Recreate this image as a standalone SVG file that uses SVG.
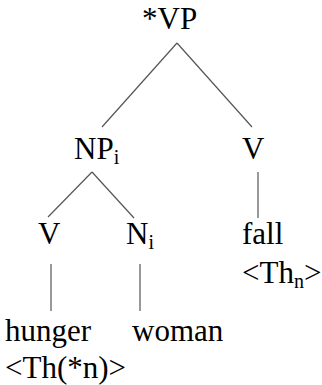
<svg xmlns="http://www.w3.org/2000/svg" width="322" height="385" viewBox="0 0 322 385">
<style>
.t{font-family:'Liberation Serif','Times New Roman',serif;font-size:31px;fill:#000}
.sub{font-size:20px}
.e{stroke:#555;stroke-width:1.2;fill:none}
</style>
<rect width="322" height="385" fill="#fff"/>
<g id="connectors">
<line class="e" x1="177" y1="43" x2="102" y2="127"/>
<line class="e" x1="177" y1="43" x2="252" y2="127"/>
<line class="e" x1="92" y1="172" x2="48" y2="217"/>
<line class="e" x1="92" y1="172" x2="134" y2="218"/>
<line class="e" x1="258" y1="172" x2="258" y2="218"/>
<line class="e" x1="51" y1="264" x2="51" y2="311"/>
<line class="e" x1="140" y1="264" x2="140" y2="311"/>
</g>
<g id="vp"><text class="t" x="142" y="29">*VP</text></g>
<g id="np"><text class="t" x="74" y="159">NP<tspan class="sub" dy="5">i</tspan></text></g>
<g id="v-right"><text class="t" x="242" y="159">V</text></g>
<g id="v-left"><text class="t" x="38" y="244">V</text></g>
<g id="n"><text class="t" x="126" y="244">N<tspan class="sub" dy="5">i</tspan></text></g>
<g id="fall"><text class="t" x="242" y="244">fall</text><text class="t" x="242" y="283">&lt;Th<tspan class="sub" dy="5">n</tspan><tspan dy="-5">&gt;</tspan></text></g>
<g id="hunger"><text class="t" x="5" y="341">hunger</text><text class="t" x="5" y="378">&lt;Th(*n)&gt;</text></g>
<g id="woman"><text class="t" x="132" y="341">woman</text></g>
</svg>
